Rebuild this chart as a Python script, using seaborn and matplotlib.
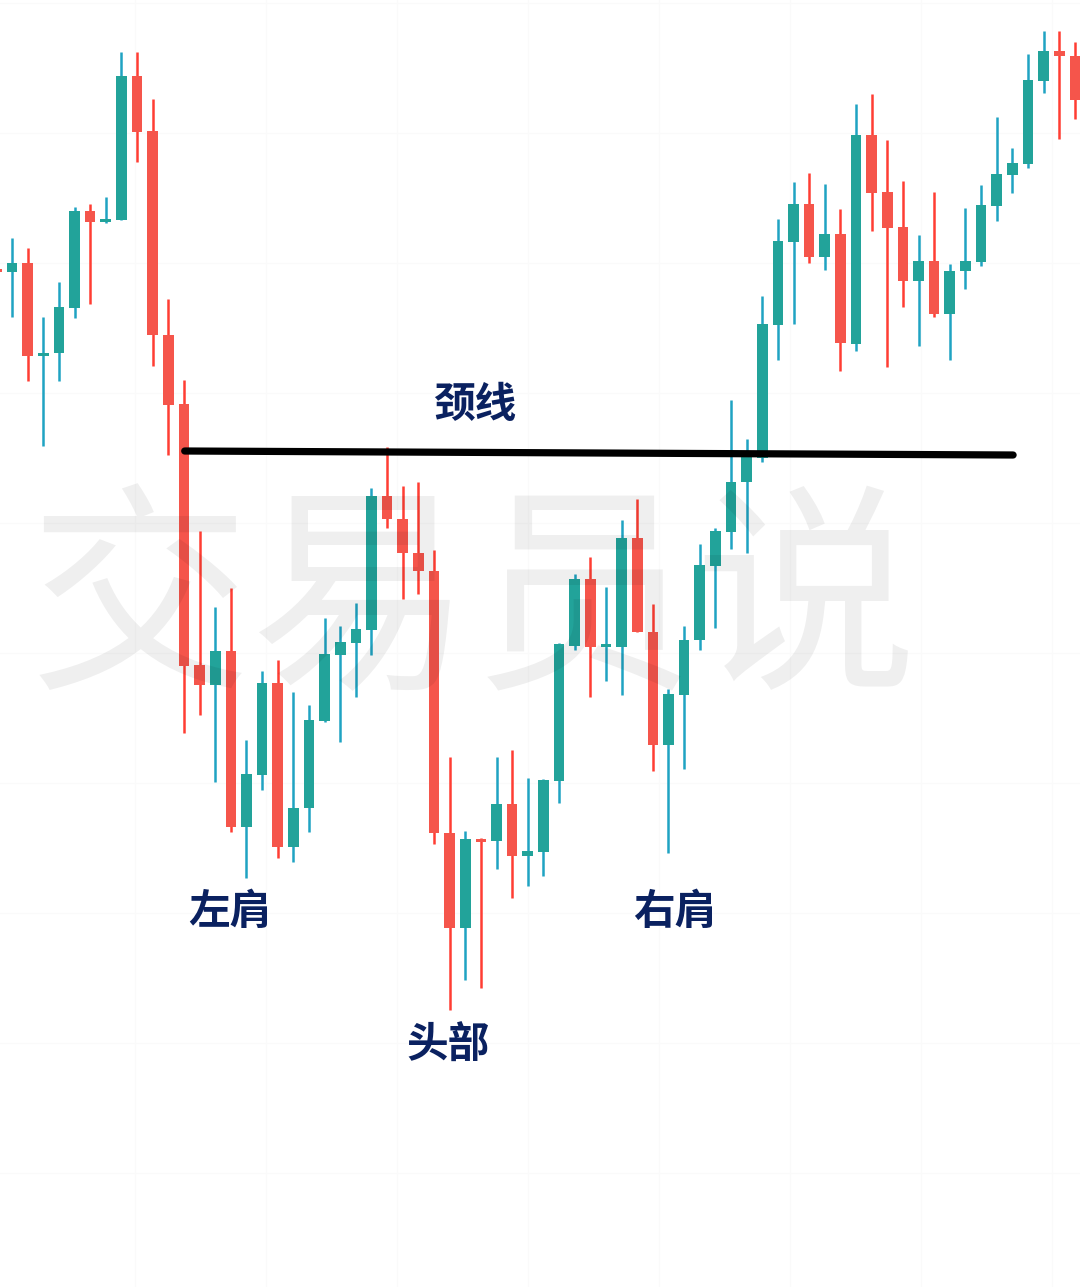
import numpy as np
import pandas as pd
import seaborn as sns
import matplotlib.pyplot as plt

# K线数据 (开, 高, 低, 收)
opens = [101.8, 101.5, 102.4, 93.1, 93.4, 97.9, 107.6, 106.5, 106.7, 121.1,
         115.6, 95.2, 88.3, 62.2, 60.2, 63.6, 46.0, 51.2, 60.4, 44.0,
         47.9, 56.6, 63.2, 64.4, 65.7, 79.1, 76.8, 73.4, 71.6, 45.4,
         35.9, 44.8, 44.6, 48.3, 43.1, 43.5, 50.6, 64.1, 70.8, 64.0,
         64.0, 74.9, 65.5, 54.2, 59.2, 64.7, 72.1, 75.5, 80.5, 82.9,
         96.2, 104.5, 108.3, 103.0, 105.3, 94.3, 115.2, 109.5, 106.0, 100.6,
         102.6, 97.3, 101.6, 102.5, 108.1, 111.2, 112.3, 120.6, 123.6, 123.1]
highs = [102.1, 104.9, 103.9, 97.0, 100.5, 108.0, 108.3, 109.0, 123.5, 123.5,
         118.8, 98.8, 90.7, 75.6, 68.0, 69.9, 54.7, 61.6, 62.7, 59.5,
         58.2, 66.9, 66.1, 68.4, 79.9, 84.0, 80.1, 80.5, 73.7, 53.0,
         45.6, 44.9, 53.0, 53.7, 50.9, 50.8, 64.4, 71.3, 73.0, 70.0,
         76.7, 78.8, 68.3, 59.8, 66.1, 74.3, 75.9, 88.7, 84.8, 99.1,
         106.8, 110.5, 111.4, 110.3, 107.8, 118.3, 119.3, 114.7, 110.6, 105.2,
         109.5, 102.3, 107.9, 110.2, 117.0, 113.9, 123.3, 125.6, 125.6, 124.5]
lows = [101.3, 97.0, 90.6, 84.1, 90.6, 96.9, 98.3, 106.4, 106.7, 112.5,
        92.1, 83.2, 55.4, 57.2, 50.5, 45.5, 40.9, 49.7, 42.9, 42.5,
        45.5, 56.5, 54.5, 59.0, 63.2, 75.9, 68.8, 69.3, 44.3, 27.7,
        30.7, 29.9, 41.8, 38.9, 40.1, 41.1, 48.4, 63.7, 59.0, 60.6,
        59.2, 65.5, 51.6, 43.4, 51.8, 63.7, 65.9, 73.8, 73.4, 82.5,
        92.7, 96.3, 102.4, 101.7, 91.6, 93.6, 105.6, 92.0, 98.0, 94.1,
        97.0, 92.7, 99.8, 102.1, 106.6, 109.4, 111.9, 119.4, 114.8, 116.8]
closes = [101.6, 102.4, 93.1, 93.4, 98.0, 107.6, 106.5, 106.8, 121.1, 115.5,
          95.2, 88.2, 62.1, 60.2, 63.6, 46.0, 51.3, 60.4, 44.0, 47.9,
          56.7, 63.3, 64.5, 65.8, 79.1, 76.8, 73.4, 71.6, 45.4, 35.9,
          44.8, 44.5, 48.3, 43.1, 43.6, 50.7, 64.3, 70.8, 64.0, 64.1,
          74.9, 65.5, 54.2, 59.3, 64.7, 72.2, 75.6, 80.5, 83.0, 96.3,
          104.6, 108.3, 103.0, 105.3, 94.4, 115.2, 109.4, 105.9, 100.6, 102.6,
          97.3, 101.6, 102.6, 108.2, 111.3, 112.4, 120.7, 123.6, 123.1, 118.7]

# 颈线
neck_idx = [12.05, 65.05]
neck_level = [83.6, 83.2]

# 标注
labels = ['颈线', '左肩', '头部', '右肩']
label_x = [30.6, 14.95, 28.9, 43.4]
label_y = [88.2, 37.5, 24.1, 37.5]

df = pd.DataFrame({'open': opens, 'high': highs, 'low': lows, 'close': closes})
df['idx'] = np.arange(len(df))
df['up'] = df['close'] >= df['open']

UP_BODY = '#22A39A'
UP_WICK = '#1FA3C2'
DN_BODY = '#F5554B'
DN_WICK = '#FF3D33'

sns.set_style('white')
plt.rcParams['font.family'] = ['Noto Sans CJK SC', 'DejaVu Sans']

fig = plt.figure(figsize=(10.8, 12.87), dpi=100)
ax = fig.add_axes([0, 0, 1, 1])

# 影线
wick_colors = np.where(df['up'], UP_WICK, DN_WICK)
ax.vlines(df['idx'], df['low'], df['high'], colors=wick_colors, linewidth=1.8, zorder=2)

# 实体
body_colors = np.where(df['up'], UP_BODY, DN_BODY)
height = (df['close'] - df['open']).to_numpy()
height = np.where(np.abs(height) < 0.3, np.sign(height + 1e-9) * 0.3, height)
ax.bar(df['idx'], height, bottom=df['open'], width=0.68, color=body_colors,
       edgecolor='none', zorder=3)

# 颈线
sns.lineplot(x=neck_idx, y=neck_level, color='black', linewidth=5.2, ax=ax, zorder=4)

for t, x, y in zip(labels, label_x, label_y):
    ax.text(x, y, t, fontsize=30, fontweight='bold', color='#0A2160',
            ha='center', va='center', zorder=5)

# 水印
ax.text(0.438, 0.527, '交易员说', transform=ax.transAxes, fontsize=160,
        color='black', alpha=0.062, ha='center', va='center', zorder=6)

# 淡网格
gx = 1 + (np.arange(135, 1080, 131) - 12) / 15.63
gy = (1287 - np.arange(3, 1287, 130)) / 10
ax.set_xticks(gx)
ax.set_yticks(gy)
ax.grid(True, color='#FAFAFA', linewidth=1, zorder=0)
ax.tick_params(length=0, labelbottom=False, labelleft=False)
for s in ax.spines.values():
    s.set_visible(False)

ax.set_xlim(0.232, 69.33)
ax.set_ylim(0, 128.7)

fig.savefig('out.png', dpi=100)
